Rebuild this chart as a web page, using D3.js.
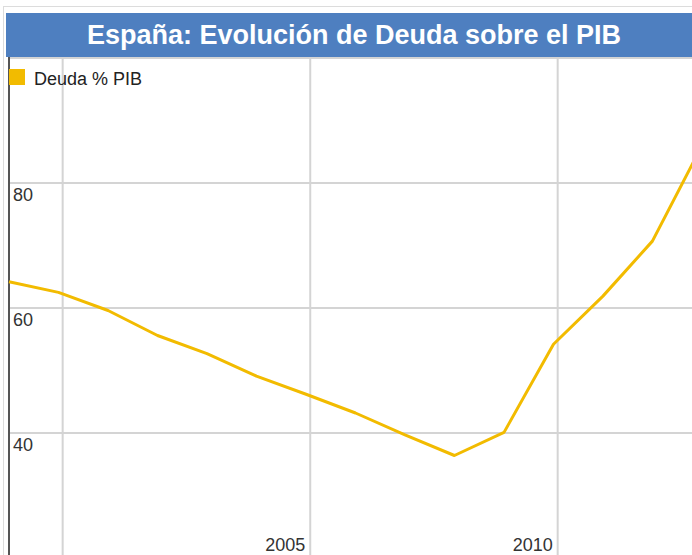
<!DOCTYPE html>
<html>
<head>
<meta charset="utf-8">
<script src="https://cdn.jsdelivr.net/npm/d3@7"></script>
<style>
  body { margin: 0; background: #fff; }
  text { font-family: "Liberation Sans", Arial, sans-serif; }
</style>
</head>
<body>
<script>

var title = "España: Evolución de Deuda sobre el PIB";
var seriesName = "Deuda % PIB";

var years = [1998, 1999, 2000, 2001, 2002, 2003, 2004, 2005, 2006, 2007, 2008, 2009, 2010, 2011, 2012];
var deuda = [64.2, 62.5, 59.6, 55.6, 52.7, 49.1, 46.2, 43.2, 39.7, 36.4, 40.1, 54.2, 61.9, 70.7, 86.0];

var xGridYears = [2000, 2005, 2010];
var xLabelYears = [2005, 2010];
var yGrid = [20, 40, 60, 80, 100];
var yLabels = [40, 60, 80];

var width = 692, height = 555;
var plot = {left: 9, right: 702, top: 58, bottom: 558};

var lineColor = "#f2bb00";

var svg = d3.select("body").append("svg")
    .attr("width", width)
    .attr("height", height);

// data points sit at the start of December of each year
var x = d3.scaleTime()
    .domain([new Date(1998, 11, 1), new Date(2012, 11, 1)])
    .range([plot.left, plot.right]);

var y = d3.scaleLinear()
    .domain([20, 100])
    .range([plot.bottom, plot.top]);

// outer frame
svg.append("rect")
    .attr("x", 3.5).attr("y", 6.5)
    .attr("width", 720).attr("height", 600)
    .attr("fill", "none")
    .attr("stroke", "#dcdcdc");

// grid
svg.append("g").selectAll("line")
    .data(yGrid)
  .enter().append("line")
    .attr("x1", plot.left).attr("x2", plot.right)
    .attr("y1", function(d) { return y(d); })
    .attr("y2", function(d) { return y(d); })
    .attr("stroke", "#d4d4d4")
    .attr("stroke-width", 2);

svg.append("g").selectAll("line")
    .data(xGridYears)
  .enter().append("line")
    .attr("x1", function(d) { return x(new Date(d, 0, 1)); })
    .attr("x2", function(d) { return x(new Date(d, 0, 1)); })
    .attr("y1", plot.top).attr("y2", plot.bottom)
    .attr("stroke", "#d4d4d4")
    .attr("stroke-width", 2);

// left axis line
svg.append("line")
    .attr("x1", plot.left).attr("x2", plot.left)
    .attr("y1", plot.top - 1).attr("y2", plot.bottom)
    .attr("stroke", "#555")
    .attr("stroke-width", 2);

// tick labels
svg.append("g").selectAll("text")
    .data(yLabels)
  .enter().append("text")
    .attr("x", plot.left + 4)
    .attr("y", function(d) { return y(d) + 18; })
    .attr("font-size", "18px")
    .attr("fill", "#333")
    .text(function(d) { return d; });

svg.append("g").selectAll("text")
    .data(xLabelYears)
  .enter().append("text")
    .attr("x", function(d) { return x(new Date(d, 0, 1)) - 5; })
    .attr("y", 551)
    .attr("text-anchor", "end")
    .attr("font-size", "18px")
    .attr("fill", "#333")
    .text(function(d) { return d; });

// line
var line = d3.line()
    .x(function(d, i) { return x(new Date(years[i], 11, 1)); })
    .y(function(d) { return y(d); });

svg.append("path")
    .datum(deuda)
    .attr("d", line)
    .attr("fill", "none")
    .attr("stroke", lineColor)
    .attr("stroke-width", 3)
    .attr("stroke-linejoin", "round");

// title bar
svg.append("rect")
    .attr("x", 6).attr("y", 13)
    .attr("width", plot.right - 6).attr("height", 44)
    .attr("fill", "#4e7fc0");

svg.append("text")
    .attr("x", (6 + plot.right) / 2)
    .attr("y", 43.5)
    .attr("text-anchor", "middle")
    .attr("font-size", "27px")
    .attr("font-weight", "bold")
    .attr("fill", "#fff")
    .text(title);

// legend
svg.append("rect")
    .attr("x", 9).attr("y", 69)
    .attr("width", 16).attr("height", 16)
    .attr("fill", lineColor);

svg.append("text")
    .attr("x", 34)
    .attr("y", 85)
    .attr("font-size", "18px")
    .attr("fill", "#222")
    .text(seriesName);

</script>
</body>
</html>
